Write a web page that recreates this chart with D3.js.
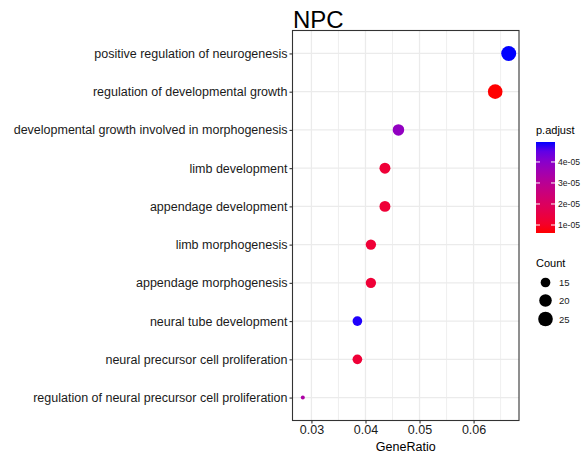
<!DOCTYPE html>
<html>
<head>
<meta charset="utf-8">
<script src="https://cdn.jsdelivr.net/npm/d3@7"></script>
<style>
  body { margin: 0; background: #fff; }
  svg { display: block; font-family: "Liberation Sans", Arial, sans-serif; }
</style>
</head>
<body>
<svg id="chart"></svg>
<script>
// GO terms, top to bottom
var terms = [
  "positive regulation of neurogenesis",
  "regulation of developmental growth",
  "developmental growth involved in morphogenesis",
  "limb development",
  "appendage development",
  "limb morphogenesis",
  "appendage morphogenesis",
  "neural tube development",
  "neural precursor cell proliferation",
  "regulation of neural precursor cell proliferation"
];
var geneRatio = [0.0665, 0.0640, 0.0461, 0.0436, 0.0436, 0.0410, 0.0410, 0.0385, 0.0385, 0.0284];
var counts    = [26, 25, 18, 17, 17, 16, 16, 15, 15, 11];
var padjust   = [4.95e-5, 0.62e-5, 3.85e-5, 1.27e-5, 1.27e-5, 1.27e-5, 1.27e-5, 4.9e-5, 1.27e-5, 3.3e-5];

var xTicks = [0.03, 0.04, 0.05, 0.06];
var xMinor = [0.025, 0.035, 0.045, 0.055, 0.065];
var colorTicks = [1e-5, 2e-5, 3e-5, 4e-5];
var colorTickLabels = ["1e-05", "2e-05", "3e-05", "4e-05"];
var sizeBreaks = [15, 20, 25];

var W = 581, H = 453;
var panel = {left: 292.5, top: 30.5, right: 519, bottom: 420.5};

var svg = d3.select("#chart").attr("width", W).attr("height", H);

// scales
var xr = d3.extent(geneRatio), xpad = (xr[1] - xr[0]) * 0.05;
var x = d3.scaleLinear()
    .domain([xr[0] - xpad, xr[1] + xpad])
    .range([panel.left, panel.right]);

var y = d3.scalePoint()
    .domain(terms)
    .range([panel.top, panel.bottom])
    .padding(0.6);

var pr = d3.extent(padjust);
var colorT = d3.scaleLinear().domain(pr).range([0, 1]);
var interp = d3.interpolateLab("red", "blue");
function color(v) { return interp(colorT(v)); }

// ggplot style area size scale
var cr = d3.extent(counts);
var rLin = d3.scaleLinear().domain([0, 1]).range([2, 7.5]);
function radius(c) { return rLin(Math.sqrt((c - cr[0]) / (cr[1] - cr[0]))); }

// grid
var grid = svg.append("g");
grid.selectAll(".minor").data(xMinor.filter(function(d) { return x(d) > panel.left && x(d) < panel.right; }))
  .enter().append("line")
    .attr("x1", function(d) { return x(d); }).attr("x2", function(d) { return x(d); })
    .attr("y1", panel.top).attr("y2", panel.bottom)
    .attr("stroke", "#ebebeb").attr("stroke-width", 0.8);
grid.selectAll(".major").data(xTicks)
  .enter().append("line")
    .attr("x1", function(d) { return x(d); }).attr("x2", function(d) { return x(d); })
    .attr("y1", panel.top).attr("y2", panel.bottom)
    .attr("stroke", "#ebebeb").attr("stroke-width", 1.3);
grid.selectAll(".hgrid").data(terms)
  .enter().append("line")
    .attr("x1", panel.left).attr("x2", panel.right)
    .attr("y1", function(d) { return y(d); }).attr("y2", function(d) { return y(d); })
    .attr("stroke", "#ebebeb").attr("stroke-width", 1.3);

// points
var rows = terms.map(function(t, i) {
  return {term: t, ratio: geneRatio[i], count: counts[i], p: padjust[i]};
});
svg.append("g").selectAll("circle").data(rows)
  .enter().append("circle")
    .attr("cx", function(d) { return x(d.ratio); })
    .attr("cy", function(d) { return y(d.term); })
    .attr("r", function(d) { return radius(d.count); })
    .attr("fill", function(d) { return color(d.p); });

// panel border
svg.append("rect")
    .attr("x", panel.left).attr("y", panel.top)
    .attr("width", panel.right - panel.left).attr("height", panel.bottom - panel.top)
    .attr("fill", "none").attr("stroke", "#333").attr("stroke-width", 1.1);

// axes
var yAxis = svg.append("g")
    .attr("transform", "translate(" + panel.left + ",0)")
    .call(d3.axisLeft(y).tickSize(3).tickPadding(2));
var xAxis = svg.append("g")
    .attr("transform", "translate(0," + panel.bottom + ")")
    .call(d3.axisBottom(x).tickValues(xTicks).tickFormat(d3.format(".2f")).tickSize(3).tickPadding(2));
[yAxis, xAxis].forEach(function(a) {
  a.select(".domain").remove();
  a.selectAll(".tick line").attr("stroke", "#333").attr("stroke-width", 1.1);
  a.selectAll(".tick text").attr("fill", "#1a1a1a").style("font-size", "12.5px")
    .style("font-family", "'Liberation Sans', Arial, sans-serif");
});

// title and axis label
svg.append("text")
    .attr("x", 293).attr("y", 28)
    .style("font-size", "24px").attr("fill", "#000")
    .text("NPC");
svg.append("text")
    .attr("x", (panel.left + panel.right) / 2).attr("y", 451)
    .attr("text-anchor", "middle")
    .style("font-size", "12.5px").attr("fill", "#000")
    .text("GeneRatio");

// colour legend
var leg = svg.append("g");
leg.append("text").attr("x", 536).attr("y", 134)
    .style("font-size", "11px").text("p.adjust");
var barTop = 142, barBot = 233, barX = 536, barW = 19;
var defs = svg.append("defs");
var grad = defs.append("linearGradient").attr("id", "pgrad")
    .attr("x1", 0).attr("y1", 1).attr("x2", 0).attr("y2", 0);
d3.range(0, 1.0001, 0.1).forEach(function(t) {
  grad.append("stop").attr("offset", t).attr("stop-color", interp(t));
});
leg.append("rect").attr("x", barX).attr("y", barTop)
    .attr("width", barW).attr("height", barBot - barTop)
    .attr("fill", "url(#pgrad)");
var cy = d3.scaleLinear().domain(pr).range([barBot, barTop]);
colorTicks.forEach(function(v, i) {
  var yy = cy(v);
  leg.append("line").attr("x1", barX).attr("x2", barX + 4).attr("y1", yy).attr("y2", yy)
    .attr("stroke", "#fff").attr("stroke-width", 1);
  leg.append("line").attr("x1", barX + barW - 4).attr("x2", barX + barW).attr("y1", yy).attr("y2", yy)
    .attr("stroke", "#fff").attr("stroke-width", 1);
  leg.append("text").attr("x", 558).attr("y", yy + 3)
    .style("font-size", "8.6px").attr("fill", "#1a1a1a").text(colorTickLabels[i]);
});

// size legend
leg.append("text").attr("x", 536).attr("y", 267)
    .style("font-size", "11px").text("Count");
var sy = [282.5, 300.5, 319];
sizeBreaks.forEach(function(c, i) {
  leg.append("circle").attr("cx", 545.5).attr("cy", sy[i]).attr("r", radius(c)).attr("fill", "#000");
  leg.append("text").attr("x", 559).attr("y", sy[i] + 3.5)
    .style("font-size", "9.5px").attr("fill", "#1a1a1a").text(c);
});
</script>
</body>
</html>
